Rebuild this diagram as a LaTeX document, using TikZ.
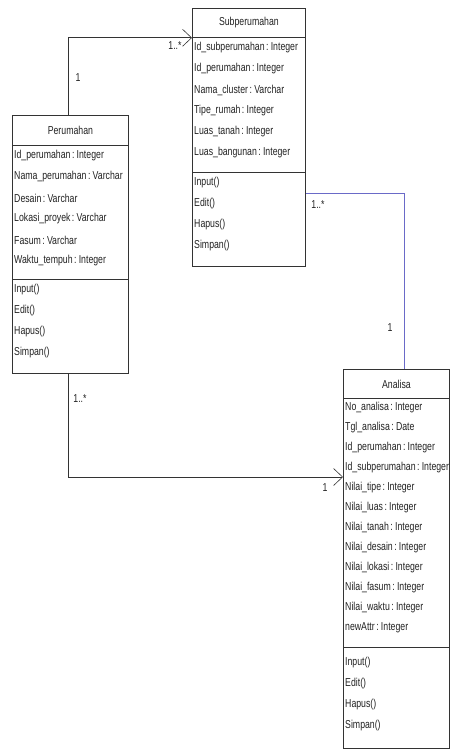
\documentclass[tikz,border=0pt]{standalone}
\usepackage{fontspec}
\setmainfont{Liberation Sans}[FakeStretch=0.76, WordSpace=0.6]
\usepackage{tikz}
\usetikzlibrary{arrows.meta,calc}
\definecolor{boxline}{HTML}{333333}
\definecolor{ink}{HTML}{222222}
\definecolor{assoc}{HTML}{6A6AC8}
\tikzset{
  part/.style={draw=boxline, line width=0.8pt, anchor=north west, inner sep=0pt,
    font=\fontsize{11.5}{13}\selectfont, text=ink},
  row/.style={anchor=west, inner sep=0pt, font=\fontsize{11.5}{13}\selectfont, text=ink},
  mult/.style={inner sep=0pt, font=\fontsize{11.5}{13}\selectfont, text=ink},
  link/.style={draw=boxline, line width=0.6pt},
  nav/.style={-{Straight Barb[length=9pt,width=17pt]}},
}
\begin{document}
\begin{tikzpicture}[x=1pt,y=-1pt]
      \useasboundingbox (0,0) rectangle (450,749);
      % Subperumahan
      \node[part, minimum width=113pt, minimum height=29pt] (subhead) at (192,8) {Subperumahan};
      \node[part, minimum width=113pt, minimum height=135pt] (subattr) at (192,37) {};
      \node[part, minimum width=113pt, minimum height=94pt] (subops) at (192,172) {};
      \foreach \t [count=\i] in {Id\_subperumahan : Integer, Id\_perumahan : Integer,
          Nama\_cluster : Varchar, Tipe\_rumah : Integer, Luas\_tanah : Integer,
          Luas\_bangunan : Integer}
        \node[row] (subattr-\i) at (194,27+21*\i) {\t};
      \foreach \t [count=\i] in {Input(), Edit(), Hapus(), Simpan()}
        \node[row] (subop-\i) at (194,162+21*\i) {\t};
      % Perumahan
      \node[part, minimum width=116pt, minimum height=30pt] (perhead) at (12,115) {Perumahan};
      \node[part, minimum width=116pt, minimum height=134pt] (perattr) at (12,145) {};
      \node[part, minimum width=116pt, minimum height=94pt] (perops) at (12,279) {};
      \foreach \t [count=\i] in {Id\_perumahan : Integer, Nama\_perumahan : Varchar,
          Desain : Varchar, Lokasi\_proyek : Varchar, Fasum : Varchar,
          Waktu\_tempuh : Integer}
        \node[row] (perattr-\i) at (14,135+21*\i) {\t};
      \foreach \t [count=\i] in {Input(), Edit(), Hapus(), Simpan()}
        \node[row] (perop-\i) at (14,269+21*\i) {\t};
      % Analisa
      \node[part, minimum width=106pt, minimum height=29pt] (anahead) at (343,369) {Analisa};
      \node[part, minimum width=106pt, minimum height=249pt] (anaattr) at (343,398) {};
      \node[part, minimum width=106pt, minimum height=101pt] (anaops) at (343,647) {};
      \foreach \t [count=\i] in {No\_analisa : Integer, Tgl\_analisa : Date,
          Id\_perumahan : Integer, Id\_subperumahan : Integer, Nilai\_tipe : Integer,
          Nilai\_luas : Integer, Nilai\_tanah : Integer, Nilai\_desain : Integer,
          Nilai\_lokasi : Integer, Nilai\_fasum : Integer, Nilai\_waktu : Integer,
          newAttr : Integer}
        \node[row] (anaattr-\i) at (345,388+20*\i) {\t};
      \foreach \t [count=\i] in {Input(), Edit(), Hapus(), Simpan()}
        \node[row] (anaop-\i) at (345,642+21*\i) {\t};
      % associations
      \coordinate (anain) at (343,477);
      \draw[link, nav] ($(perhead.north)+(-2,0)$) |- (subhead.south west);
      \draw[link, nav] ($(perops.south)+(-2,0)$) |- (anain);
      \draw[assoc, line width=0.6pt] ($(subops.north east)+(0,21)$) -| ($(anahead.north)+(8,0)$);
      \node[mult] (m1) at (78,78) {1};
      \node[mult] (m2) at (175,46) {1..*};
      \node[mult] (m3) at (80,399) {1..*};
      \node[mult] (m4) at (325,488) {1};
      \node[mult] (m5) at (318,205) {1..*};
      \node[mult] (m6) at (390,328) {1};
    \end{tikzpicture}
\end{document}
